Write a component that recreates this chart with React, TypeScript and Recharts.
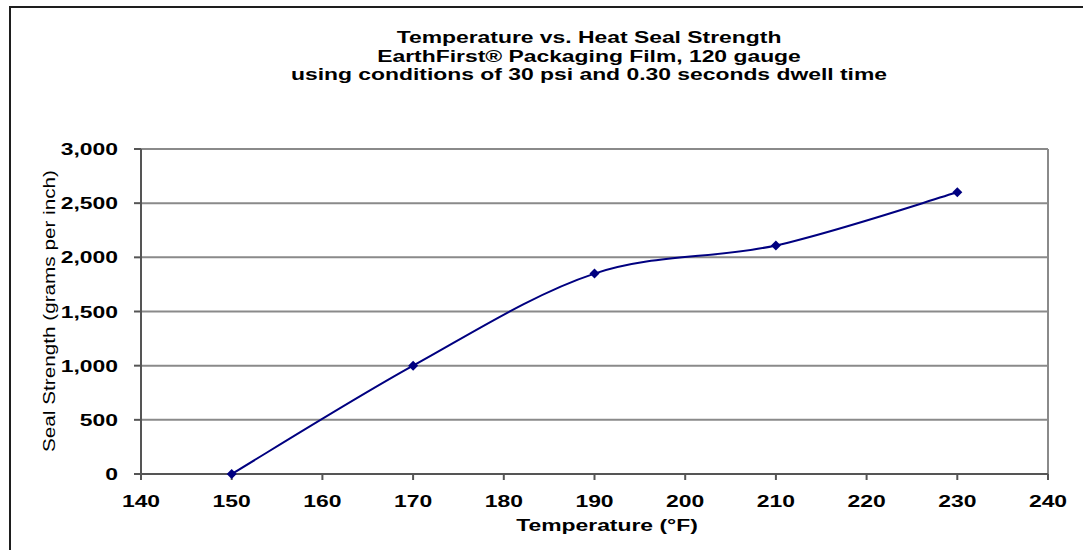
import { CartesianGrid, Line, LineChart, ReferenceLine, XAxis, YAxis } from 'recharts'

const temperatures = [150, 170, 190, 210, 230]
const strengths = [0, 1000, 1850, 2110, 2600]
const xTicks = [140, 150, 160, 170, 180, 190, 200, 210, 220, 230, 240]
const yTicks = [0, 500, 1000, 1500, 2000, 2500, 3000]
const titleLines = [
  'Temperature vs. Heat Seal Strength',
  'EarthFirst® Packaging Film, 120 gauge',
  'using conditions of 30 psi and 0.30 seconds dwell time',
]
const xTitle = 'Temperature (°F)'
const yTitle = 'Seal Strength (grams per inch)'

const data = temperatures.map((t, i) => ({ temp: t, strength: strengths[i] }))

const FONT = '"Liberation Sans", Arial, sans-serif'
const STRETCH = 1.43

// Excel-style smoothed line: bezier segments with 1/6 neighbour tangents
function excelSmooth(context: any) {
  let pts: number[][] = []
  return {
    areaStart() {},
    areaEnd() {},
    lineStart() { pts = [] },
    point(x: number, y: number) { pts.push([+x, +y]) },
    lineEnd() {
      if (!pts.length) return
      context.moveTo(pts[0][0], pts[0][1])
      for (let i = 0; i < pts.length - 1; i++) {
        const p0 = pts[i - 1] || pts[i]
        const p1 = pts[i]
        const p2 = pts[i + 1]
        const p3 = pts[i + 2] || pts[i + 1]
        context.bezierCurveTo(
          p1[0] + (p2[0] - p0[0]) / 6, p1[1] + (p2[1] - p0[1]) / 6,
          p2[0] - (p3[0] - p1[0]) / 6, p2[1] - (p3[1] - p1[1]) / 6,
          p2[0], p2[1],
        )
      }
    },
  }
}

function Diamond({ cx, cy }: { cx?: number; cy?: number }) {
  if (cx == null || cy == null) return null
  const r = 5
  return <polygon points={`${cx},${cy - r} ${cx + r},${cy} ${cx},${cy + r} ${cx - r},${cy}`} fill="#000080" stroke="none" />
}

function XTick({ x, y, payload }: any) {
  return (
    <g transform={`translate(${x},${y + 25}) scale(${STRETCH},1)`}>
      <text textAnchor="middle" fontFamily={FONT} fontWeight="bold" fontSize={16} fill="#000">{payload.value}</text>
    </g>
  )
}

function YTick({ x, y, payload }: any) {
  return (
    <g transform={`translate(${x - 14},${y + 6}) scale(${STRETCH},1)`}>
      <text textAnchor="end" fontFamily={FONT} fontWeight="bold" fontSize={16} fill="#000">{Number(payload.value).toLocaleString('en-US')}</text>
    </g>
  )
}

export default function App() {
  return (
    <div style={{ position: 'absolute', left: 0, top: 0, width: 1083, height: 550, background: '#fff', overflow: 'hidden' }}>
      <div style={{ position: 'absolute', left: 9, top: 6, right: -10, bottom: -10, borderTop: '2px solid #1e1e1e', borderLeft: '2px solid #1e1e1e' }} />
      <div style={{ position: 'absolute', left: 0, top: 0 }}>
        <LineChart width={1083} height={550} data={data} margin={{ top: 149, right: 35, bottom: 46, left: 81 }}>
          <CartesianGrid horizontal vertical={false} stroke="#8a8a8a" strokeWidth={2} />
          <ReferenceLine x={240} stroke="#8a8a8a" strokeWidth={2} />
          <XAxis
            dataKey="temp"
            type="number"
            domain={[140, 240]}
            ticks={xTicks}
            height={30}
            stroke="#555"
            strokeWidth={2}
            tickSize={6}
            tick={<XTick />}
            interval={0}
          />
          <YAxis
            type="number"
            domain={[0, 3000]}
            ticks={yTicks}
            width={60}
            stroke="#555"
            strokeWidth={2}
            tickSize={7}
            tick={<YTick />}
            interval={0}
          />
          <Line
            dataKey="strength"
            type={excelSmooth as any}
            stroke="#000080"
            strokeWidth={2}
            dot={<Diamond />}
            activeDot={false}
            isAnimationActive={false}
          />
        </LineChart>
      </div>
      <svg width={1083} height={550} style={{ position: 'absolute', left: 0, top: 0, pointerEvents: 'none' }}>
        {titleLines.map((line, i) => (
          <g key={line} transform={`translate(589,${43 + i * 18.5}) scale(${STRETCH},1)`}>
            <text textAnchor="middle" fontFamily={FONT} fontWeight="bold" fontSize={16} fill="#000">{line}</text>
          </g>
        ))}
        <g transform={`translate(607,531) scale(${STRETCH},1)`}>
          <text textAnchor="middle" fontFamily={FONT} fontWeight="bold" fontSize={16} fill="#000">{xTitle}</text>
        </g>
        <text
          transform="translate(55,311) rotate(-90)"
          textAnchor="middle"
          fontFamily={FONT}
          fontSize={17}
          textLength={282}
          lengthAdjust="spacingAndGlyphs"
          fill="#000"
        >
          {yTitle}
        </text>
      </svg>
    </div>
  )
}
